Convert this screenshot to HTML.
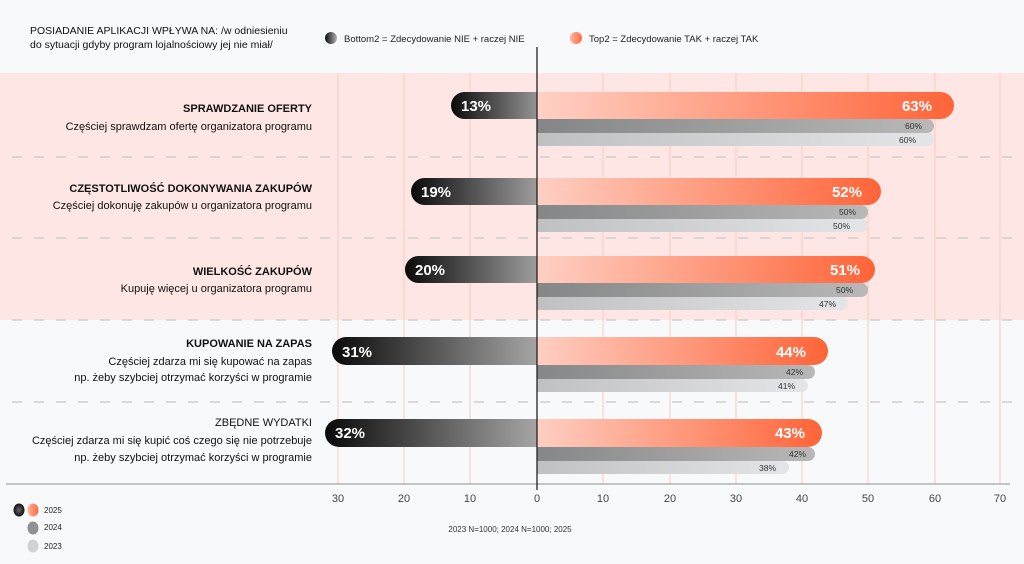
<!DOCTYPE html>
<html><head><meta charset="utf-8"><style>
html,body{margin:0;padding:0;background:#f8f9fb;}
svg{display:block;font-family:"Liberation Sans",sans-serif;}
</style></head><body>
<svg width="1024" height="564" viewBox="0 0 1024 564" xmlns="http://www.w3.org/2000/svg">
<defs>
<linearGradient id="neg" x1="0" x2="1"><stop offset="0" stop-color="#0a0a0a"/><stop offset="1" stop-color="#b4b4b4"/></linearGradient>
<linearGradient id="pos" x1="0" x2="1"><stop offset="0" stop-color="#ffd6cc"/><stop offset="1" stop-color="#ff6438"/></linearGradient>
<linearGradient id="g24" x1="0" x2="1"><stop offset="0" stop-color="#828384"/><stop offset="1" stop-color="#b8b8b8"/></linearGradient>
<linearGradient id="g23" x1="0" x2="1"><stop offset="0" stop-color="#bdbebf"/><stop offset="1" stop-color="#e3e5e8"/></linearGradient>
<radialGradient id="cd"><stop offset="0" stop-color="#666"/><stop offset="1" stop-color="#111"/></radialGradient>
<linearGradient id="co" x1="0" x2="1"><stop offset="0" stop-color="#ffb49c"/><stop offset="1" stop-color="#ff6a40"/></linearGradient>
<clipPath id="cl"><rect x="0" y="0" width="537" height="564"/></clipPath>
<clipPath id="cr"><rect x="537" y="0" width="487" height="564"/></clipPath>
</defs>
<rect width="1024" height="564" fill="#f8f9fb"/>
<rect x="0" y="73" width="1024" height="247" fill="#fde6e3"/>
<g stroke="#fbc9bd" stroke-width="1">
<line x1="338" y1="73" x2="338" y2="484"/><line x1="404" y1="73" x2="404" y2="484"/><line x1="470" y1="73" x2="470" y2="484"/>
<line x1="603" y1="73" x2="603" y2="484"/><line x1="670" y1="73" x2="670" y2="484"/><line x1="736" y1="73" x2="736" y2="484"/>
<line x1="802" y1="73" x2="802" y2="484"/><line x1="868" y1="73" x2="868" y2="484"/><line x1="935" y1="73" x2="935" y2="484"/><line x1="1000" y1="73" x2="1000" y2="484"/>
</g>
<g stroke="#c8c8c8" stroke-width="1.2" stroke-dasharray="10,12">
<line x1="12" y1="157" x2="1024" y2="157"/><line x1="12" y1="238" x2="1024" y2="238"/>
<line x1="12" y1="320" x2="1024" y2="320"/><line x1="12" y1="402" x2="1024" y2="402"/>
</g>
<line x1="6" y1="484" x2="1010" y2="484" stroke="#b0b2b5" stroke-width="1.5"/>

<text x="30" y="34" font-size="10.5" fill="#111">POSIADANIE APLIKACJI WPŁYWA NA: /w odniesieniu</text>
<text x="30" y="48" font-size="10.5" fill="#111">do sytuacji gdyby program lojalnościowy jej nie miał/</text>
<circle cx="331" cy="38" r="6" fill="url(#neg)"/>
<text x="344" y="42" font-size="9.5" fill="#222">Bottom2 = Zdecydowanie NIE + raczej NIE</text>
<circle cx="576" cy="38" r="6" fill="url(#co)"/>
<text x="589" y="42" font-size="9.5" fill="#222">Top2 = Zdecydowanie TAK + raczej TAK</text>

<g font-size="11" fill="#111" text-anchor="end">
<text x="312" y="112" font-weight="bold">SPRAWDZANIE OFERTY</text>
<text x="312" y="130">Częściej sprawdzam ofertę organizatora programu</text>
<text x="312" y="192" font-weight="bold">CZĘSTOTLIWOŚĆ DOKONYWANIA ZAKUPÓW</text>
<text x="312" y="209">Częściej dokonuję zakupów u organizatora programu</text>
<text x="312" y="275" font-weight="bold">WIELKOŚĆ ZAKUPÓW</text>
<text x="312" y="292">Kupuję więcej u organizatora programu</text>
<text x="312" y="347" font-weight="bold">KUPOWANIE NA ZAPAS</text>
<text x="312" y="365">Częściej zdarza mi się kupować na zapas</text>
<text x="312" y="381">np. żeby szybciej otrzymać korzyści w programie</text>
<text x="312" y="426">ZBĘDNE WYDATKI</text>
<text x="312" y="444">Częściej zdarza mi się kupić coś czego się nie potrzebuje</text>
<text x="312" y="461">np. żeby szybciej otrzymać korzyści w programie</text>
</g>

<g clip-path="url(#cr)">
<rect x="517" y="119" width="417" height="14" rx="7" fill="url(#g24)"/>
<rect x="517" y="133" width="417" height="13" rx="6.5" fill="url(#g23)"/>
<rect x="517" y="92" width="437" height="27" rx="13.5" fill="url(#pos)"/>
<rect x="517" y="205" width="351" height="14" rx="7" fill="url(#g24)"/>
<rect x="517" y="219" width="351" height="13" rx="6.5" fill="url(#g23)"/>
<rect x="517" y="178" width="364" height="27" rx="13.5" fill="url(#pos)"/>
<rect x="517" y="283" width="351" height="14" rx="7" fill="url(#g24)"/>
<rect x="517" y="297" width="331" height="13" rx="6.5" fill="url(#g23)"/>
<rect x="517" y="256" width="358" height="27" rx="13.5" fill="url(#pos)"/>
<rect x="517" y="365" width="298" height="14" rx="7" fill="url(#g24)"/>
<rect x="517" y="379" width="291" height="13" rx="6.5" fill="url(#g23)"/>
<rect x="517" y="337" width="311" height="28" rx="14" fill="url(#pos)"/>
<rect x="517" y="447" width="298" height="14" rx="7" fill="url(#g24)"/>
<rect x="517" y="461" width="272" height="13" rx="6.5" fill="url(#g23)"/>
<rect x="517" y="419" width="305" height="28" rx="14" fill="url(#pos)"/>
</g>
<g clip-path="url(#cl)">
<rect x="451" y="92" width="106" height="27" rx="13.5" fill="url(#neg)"/>
<rect x="411" y="178" width="146" height="27" rx="13.5" fill="url(#neg)"/>
<rect x="405" y="256" width="152" height="27" rx="13.5" fill="url(#neg)"/>
<rect x="332" y="337" width="225" height="28" rx="14" fill="url(#neg)"/>
<rect x="325" y="419" width="232" height="28" rx="14" fill="url(#neg)"/>
</g>
<g fill="#fff" font-size="15" font-weight="bold">
<text x="461" y="111">13%</text>
<text x="421" y="197">19%</text>
<text x="415" y="275">20%</text>
<text x="342" y="357">31%</text>
<text x="335" y="438">32%</text>
</g>
<g fill="#fff" font-size="15" font-weight="bold" text-anchor="end">
<text x="932" y="111">63%</text>
<text x="862" y="197">52%</text>
<text x="860" y="275">51%</text>
<text x="806" y="357">44%</text>
<text x="805" y="438">43%</text>
</g>
<g fill="#333" font-size="8.5" text-anchor="end">
<text x="922" y="129">60%</text><text x="916" y="143">60%</text>
<text x="856" y="215">50%</text><text x="850" y="229">50%</text>
<text x="853" y="293">50%</text><text x="836" y="307">47%</text>
<text x="803" y="375">42%</text><text x="795" y="389">41%</text>
<text x="806" y="457">42%</text><text x="776" y="471">38%</text>
</g>
<line x1="537" y1="47" x2="537" y2="490" stroke="#222" stroke-width="1.3"/>

<g font-size="11" fill="#444" text-anchor="middle">
<text x="338" y="502">30</text><text x="404" y="502">20</text><text x="470" y="502">10</text><text x="537" y="502">0</text>
<text x="603" y="502">10</text><text x="670" y="502">20</text><text x="736" y="502">30</text><text x="802" y="502">40</text>
<text x="868" y="502">50</text><text x="935" y="502">60</text><text x="1000" y="502">70</text>
</g>
<ellipse cx="19" cy="510" rx="5.5" ry="6.5" fill="url(#cd)"/>
<ellipse cx="33" cy="510" rx="5.5" ry="6.5" fill="url(#co)"/>
<text x="44" y="513" font-size="8" fill="#222">2025</text>
<ellipse cx="33" cy="528" rx="5.5" ry="6.5" fill="#8f9092"/>
<text x="44" y="530" font-size="8" fill="#222">2024</text>
<ellipse cx="33" cy="546" rx="5.5" ry="6.5" fill="#d0d2d4"/>
<text x="44" y="549" font-size="8" fill="#222">2023</text>
<text x="510" y="532" font-size="8" fill="#333" text-anchor="middle">2023 N=1000; 2024 N=1000; 2025</text>
</svg>
</body></html>
